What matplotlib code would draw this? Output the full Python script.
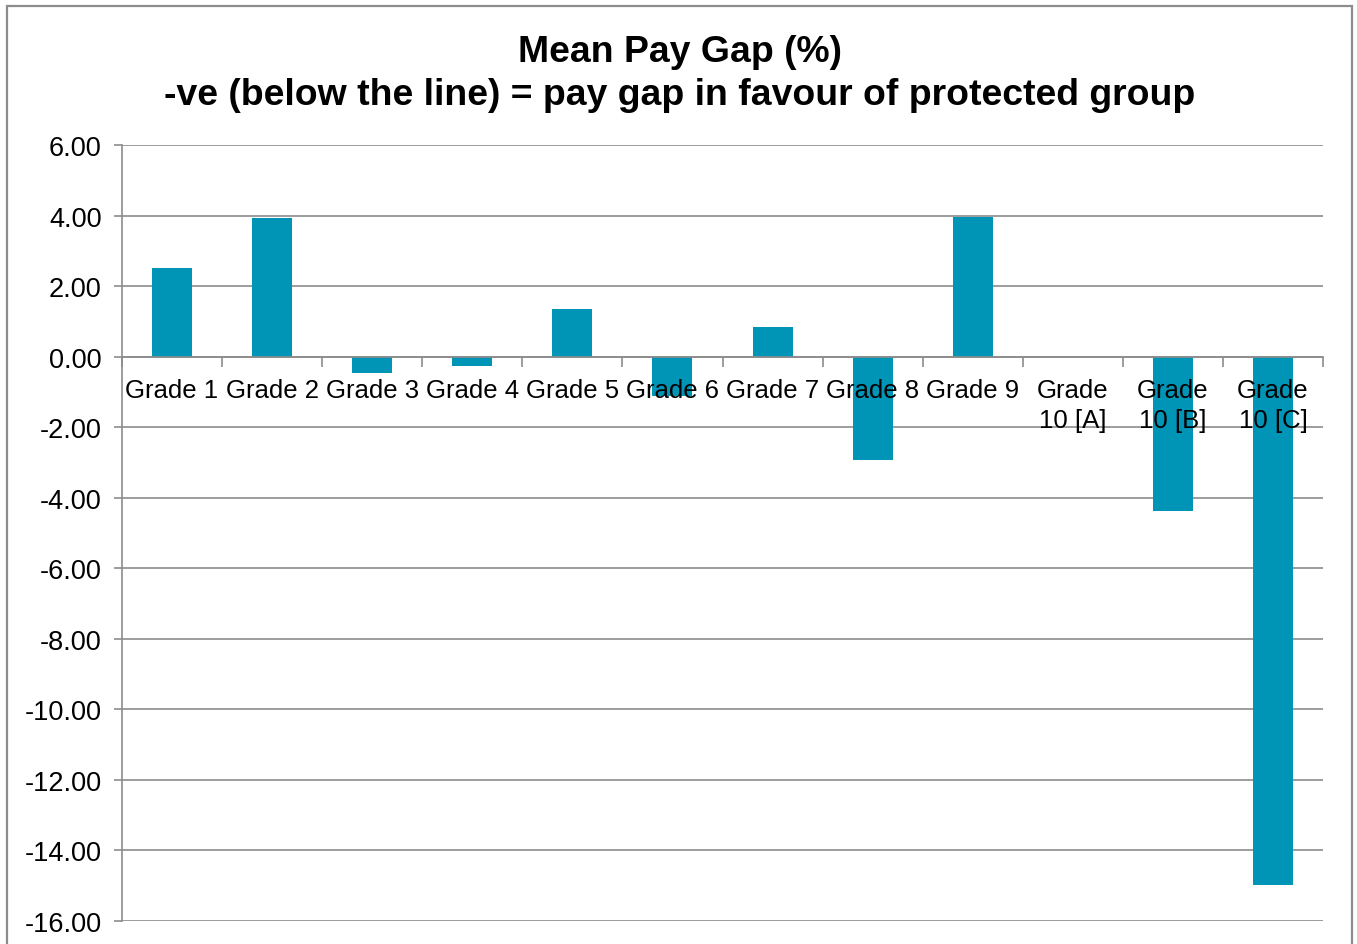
import matplotlib.pyplot as plt
from matplotlib.patches import Rectangle

plt.rcParams['font.family'] = ['Liberation Sans', 'DejaVu Sans']

grades = ['Grade 1', 'Grade 2', 'Grade 3', 'Grade 4', 'Grade 5', 'Grade 6', 'Grade 7',
          'Grade 8', 'Grade 9', 'Grade\n10 [A]', 'Grade\n10 [B]', 'Grade\n10 [C]']
gap = [2.51, 3.93, -0.47, -0.27, 1.35, -1.12, 0.84, -2.93, 3.96, 0.0, -4.38, -14.99]
yticks = [6, 4, 2, 0, -2, -4, -6, -8, -10, -12, -14, -16]

fig = plt.figure(figsize=(13.57, 9.45), dpi=100)
ax = fig.add_axes([122 / 1357, 23 / 945, (1323 - 122) / 1357, (922 - 146) / 945])

# outer chart frame (bottom edge is cut off in the original)
fig.patches.append(Rectangle((7 / 1357, -0.05), (1352 - 7) / 1357, 938 / 945 + 0.05,
                             transform=fig.transFigure, fill=False, edgecolor='#8c8c8c',
                             linewidth=1.6, zorder=0))

x = list(range(len(grades)))
ax.bar(x, gap, width=0.4, color='#0094B6', zorder=3)

ax.set_xlim(-0.5, len(grades) - 0.5)
ax.set_ylim(-16, 6)
ax.set_yticks(yticks)
ax.set_yticklabels([f'{v:.2f}' for v in yticks], fontsize=19.5)
ax.yaxis.grid(True, color='#8c8c8c', linewidth=1.2, zorder=0)
ax.tick_params(axis='y', length=6, color='#8c8c8c', width=1.2, pad=8.5)

for s in ['top', 'right']:
    ax.spines[s].set_visible(False)
ax.spines['left'].set_color('#8c8c8c')
ax.spines['left'].set_linewidth(1.2)
ax.spines['bottom'].set_position(('data', 0))
ax.spines['bottom'].set_color('#8c8c8c')
ax.spines['bottom'].set_linewidth(1.2)
ax.spines['bottom'].set_zorder(4)

# category boundary ticks; labels drawn as text on top of the bars
ax.set_xticks([])
ax.set_xticks([i - 0.5 for i in range(len(grades) + 1)], minor=True)
ax.tick_params(axis='x', which='minor', length=7, color='#8c8c8c', width=1.2, labelbottom=False)
for i, g in enumerate(grades):
    ax.annotate(g, xy=(i, 0), xytext=(0, -15.5), textcoords='offset points',
                ha='center', va='top', fontsize=18.5, linespacing=1.32, zorder=6)

fig.text(0.501, 0.944, 'Mean Pay Gap (%)', ha='center', va='center',
         fontsize=26.9, fontweight='bold')
fig.text(0.501, 0.899, '-ve (below the line) = pay gap in favour of protected group',
         ha='center', va='center', fontsize=26.9, fontweight='bold')

fig.savefig('out.png', dpi=100)
